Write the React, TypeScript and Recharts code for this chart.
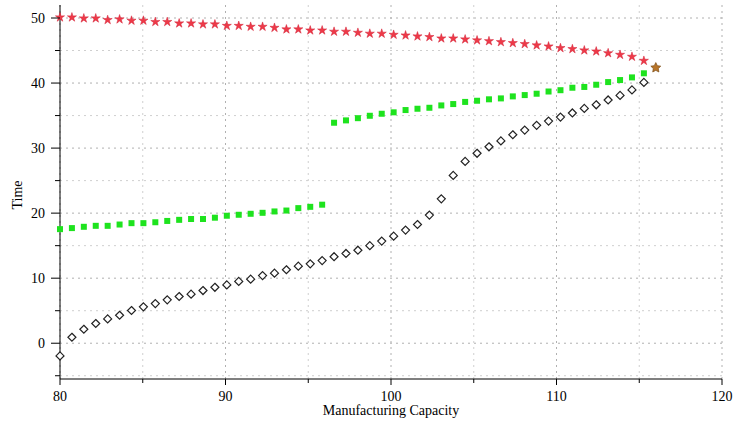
import { CartesianGrid, ReferenceLine, Scatter, ScatterChart, XAxis, YAxis, Label } from "recharts";

// manufacturing capacity grid shared by every series
const capacity = [
  80.0, 80.72, 81.44, 82.16, 82.88, 83.6, 84.32, 85.04, 85.76, 86.48,
  87.2, 87.92, 88.64, 89.36, 90.08, 90.8, 91.52, 92.24, 92.96, 93.68,
  94.4, 95.12, 95.84, 96.56, 97.28, 98.0, 98.72, 99.44, 100.16, 100.88,
  101.6, 102.32, 103.04, 103.76, 104.48, 105.2, 105.92, 106.64, 107.36, 108.08,
  108.8, 109.52, 110.24, 110.96, 111.68, 112.4, 113.12, 113.84, 114.56, 115.28,
];

const upperTime = [
  50.1, 50.1, 49.95, 49.95, 49.7, 49.8, 49.6, 49.6, 49.4, 49.4,
  49.18, 49.18, 49.03, 49.03, 48.8, 48.8, 48.66, 48.66, 48.5, 48.26,
  48.26, 48.1, 48.1, 47.9, 47.9, 47.74, 47.6, 47.6, 47.43, 47.33,
  47.18, 47.08, 46.87, 46.87, 46.72, 46.57, 46.45, 46.3, 46.15, 46.0,
  45.8, 45.64, 45.38, 45.23, 45.03, 44.87, 44.6, 44.35, 44.05, 43.43,
];

const lowerTime = [
  -1.95, 0.92, 2.15, 3.03, 3.74, 4.3, 5.03, 5.6, 6.1, 6.67,
  7.18, 7.54, 8.1, 8.6, 8.97, 9.5, 9.85, 10.4, 10.77, 11.3,
  11.85, 12.2, 12.7, 13.3, 13.8, 14.3, 15.0, 15.7, 16.46, 17.4,
  18.25, 19.7, 22.2, 25.8, 27.95, 29.2, 30.2, 31.1, 32.05, 32.77,
  33.5, 34.15, 34.77, 35.4, 36.1, 36.66, 37.4, 38.1, 38.95, 40.1,
];

// green points: first branch ends at index 22, second starts at 23
const midTimeLow = [
  17.54, 17.7, 17.9, 18.05, 18.05, 18.25, 18.46, 18.46, 18.6, 18.8,
  18.97, 19.1, 19.1, 19.3, 19.6, 19.75, 19.9, 20.05, 20.26, 20.4,
  20.77, 20.97, 21.3,
];
const midTimeHigh = [
  33.9, 34.26, 34.6, 34.97, 35.28, 35.5, 35.85, 36.05, 36.2, 36.56,
  36.77, 37.1, 37.28, 37.5, 37.64, 37.95, 38.15, 38.36, 38.7, 38.9,
  39.28, 39.4, 39.74, 40.15, 40.46, 40.87, 41.5,
];
const meetPoint = [{ x: 116.0, y: 42.35 }];

const xTicks = [80, 85, 90, 95, 100, 105, 110, 115, 120];
const yTicks = [-5, 0, 5, 10, 15, 20, 25, 30, 35, 40, 45, 50];

const upperData = upperTime.map((y, i) => ({ x: capacity[i], y }));
const lowerData = lowerTime.map((y, i) => ({ x: capacity[i], y }));
const midLowData = midTimeLow.map((y, i) => ({ x: capacity[i], y }));
const midHighData = midTimeHigh.map((y, i) => ({ x: capacity[i + 23], y }));

const FONT = "'Liberation Serif', 'Times New Roman', serif";

function starPoints(cx: number, cy: number, ro: number, ri: number) {
  const pts: string[] = [];
  for (let k = 0; k < 10; k++) {
    const r = k % 2 === 0 ? ro : ri;
    const a = -Math.PI / 2 + (k * Math.PI) / 5;
    pts.push(`${cx + r * Math.cos(a)},${cy + r * Math.sin(a)}`);
  }
  return pts.join(" ");
}

const RedStar = (props: any) => (
  <polygon points={starPoints(props.cx, props.cy, 4.8, 1.8)} fill="#ee3a48" stroke="#d21e34" strokeWidth={0.5} />
);
const BrownStar = (props: any) => (
  <polygon points={starPoints(props.cx, props.cy, 5.2, 2.6)} fill="#b8752a" stroke="#7a4a14" strokeWidth={0.7} />
);
const Diamond = (props: any) => {
  const { cx, cy } = props;
  const r = 4;
  return (
    <polygon
      points={`${cx},${cy - r} ${cx + r},${cy} ${cx},${cy + r} ${cx - r},${cy}`}
      fill="#fff"
      stroke="#222"
      strokeWidth={1.2}
    />
  );
};
const GreenSquare = (props: any) => (
  <rect x={props.cx - 3} y={props.cy - 3} width={6} height={6} fill="#1ee31e" />
);

const YTick = (props: any) => {
  const { x, y, payload } = props;
  const major = payload.value % 10 === 0;
  return (
    <g>
      <line x1={x - (major ? 9 : 5)} x2={x} y1={y} y2={y} stroke="#000" />
      {major && (
        <text x={x - 15} y={y + 5} textAnchor="end" fontSize={14} fontFamily={FONT} fill="#000">
          {payload.value}
        </text>
      )}
    </g>
  );
};

const XTick = (props: any) => {
  const { x, y, payload } = props;
  const major = payload.value % 10 === 0;
  return (
    <g>
      <line x1={x} x2={x} y1={y} y2={y + (major ? 6 : 4)} stroke="#000" />
      {major && (
        <text x={x} y={y + 22} textAnchor="middle" fontSize={14} fontFamily={FONT} fill="#000">
          {payload.value}
        </text>
      )}
    </g>
  );
};

export default function App() {
  return (
    <div style={{ position: "fixed", left: 0, top: 0, width: 734, height: 428, background: "#fff" }}>
      <ScatterChart width={734} height={428} margin={{ top: 5, right: 12, left: 10, bottom: 0 }}>
        <CartesianGrid horizontal={false} vertical={false} />
        {yTicks.map((v) => (
          <ReferenceLine key={`h${v}`} y={v} stroke={v % 10 === 0 ? "#b0b0b0" : "#cfcfcf"} strokeDasharray="2 4" />
        ))}
        {xTicks.map((v) => (
          <ReferenceLine key={`v${v}`} x={v} stroke={v % 10 === 0 ? "#b0b0b0" : "#cfcfcf"} strokeDasharray="2 4" />
        ))}
        <XAxis
          type="number"
          dataKey="x"
          domain={[80, 120]}
          ticks={xTicks}
          height={49}
          stroke="#000"
          tickSize={0}
          tickMargin={0}
          tick={<XTick />}
        >
          <Label
            content={() => (
              <text x={391} y={415} textAnchor="middle" fontSize={14} fontFamily={FONT} fill="#000">
                Manufacturing Capacity
              </text>
            )}
          />
        </XAxis>
        <YAxis
          type="number"
          dataKey="y"
          domain={[-5.5, 52]}
          ticks={yTicks}
          width={50}
          stroke="#000"
          tickSize={0}
          tickMargin={0}
          tick={<YTick />}
        >
          <Label
            content={() => (
              <text x={22} y={195} transform="rotate(-90 22 195)" textAnchor="middle" fontSize={14} fontFamily={FONT} fill="#000">
                Time
              </text>
            )}
          />
        </YAxis>
        <Scatter data={upperData} shape={<RedStar />} isAnimationActive={false} />
        <Scatter data={midLowData} shape={<GreenSquare />} isAnimationActive={false} />
        <Scatter data={midHighData} shape={<GreenSquare />} isAnimationActive={false} />
        <Scatter data={lowerData} shape={<Diamond />} isAnimationActive={false} />
        <Scatter data={meetPoint} shape={<BrownStar />} isAnimationActive={false} />
      </ScatterChart>
    </div>
  );
}
